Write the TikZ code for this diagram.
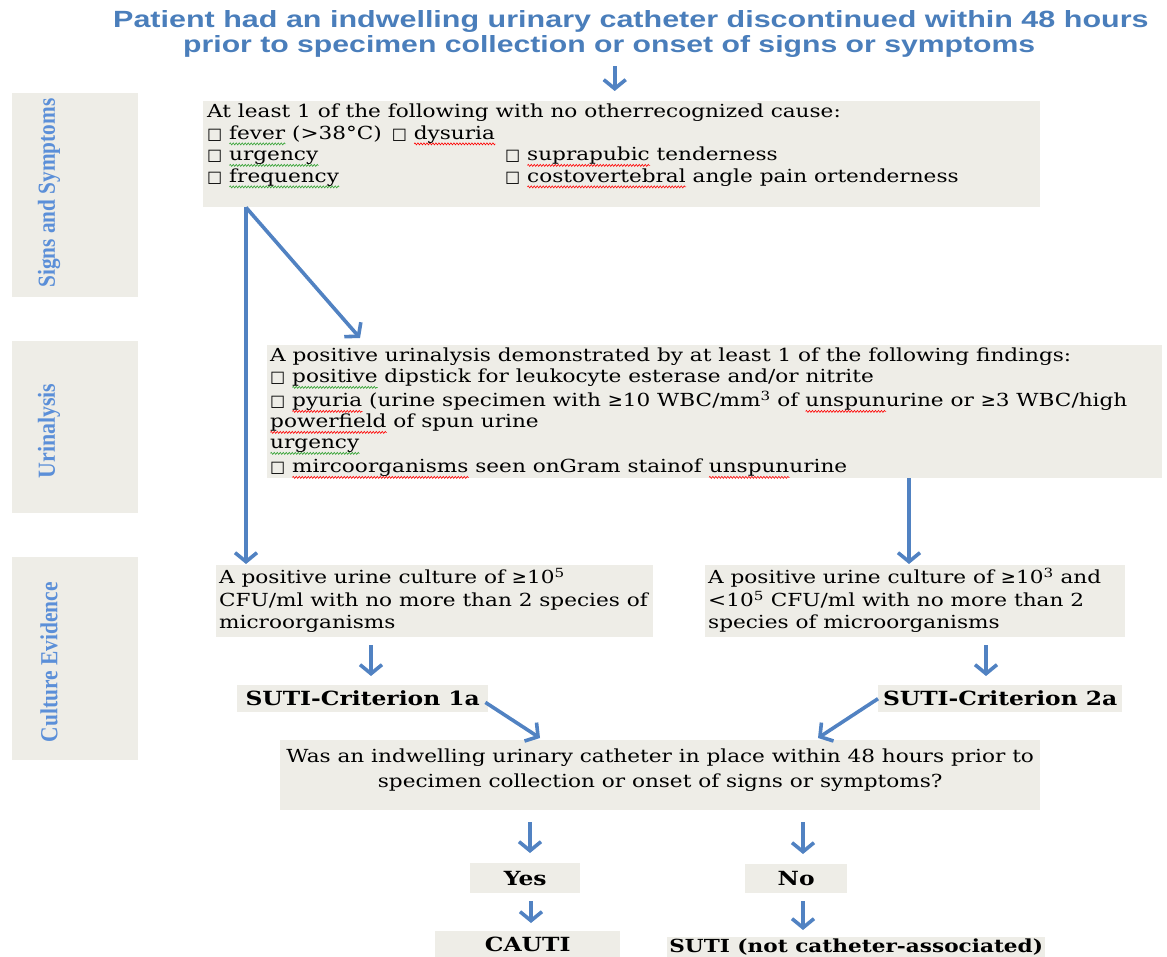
\documentclass[tikz,border=0pt]{standalone}
\usepackage{fontspec}
\usepackage{graphicx}
\usetikzlibrary{arrows.meta,decorations.pathmorphing}
\setmainfont{DejaVu Serif}
\newfontfamily\bodyf[FakeStretch=1.2]{DejaVu Serif}
\newfontfamily\titlef{Liberation Sans}
\newfontfamily\sidef{Liberation Serif}
\newfontfamily\symf{DejaVu Sans}
\definecolor{boxgray}{HTML}{EEEDE7}
\definecolor{titleblue}{HTML}{4A7EBB}
\definecolor{sideblue}{HTML}{5B8FD8}
\definecolor{arrowblue}{HTML}{5182C2}
\definecolor{wavegreen}{HTML}{2EA02E}
\newcommand\sq{{\symf\fontsize{16}{16}\selectfont □}}
\newcommand\gesym{{\symf ≥}}
\newsavebox\wbox
\newcommand\wavy[2]{\sbox\wbox{#2}\rlap{\smash{\tikz[baseline=0pt]\draw[#1, line width=0.6pt, decorate, decoration={zigzag, amplitude=1pt, segment length=3pt}] (0pt,-4.5pt) -- (\the\wd\wbox,-4.5pt);}}\usebox\wbox}
\newcommand\rw[1]{\wavy{red}{#1}}
\newcommand\gw[1]{\wavy{wavegreen}{#1}}
\tikzset{
  gbox/.style={fill=boxgray, inner sep=0pt, anchor=north west, font=\bodyf\fontsize{18}{21.5}\selectfont},
  cbox/.style={fill=boxgray, inner sep=0pt, anchor=north west, font=\bodyf\bfseries\fontsize{19.5}{22}\selectfont},
  arr/.style={draw=arrowblue, line width=3.6pt, -{Straight Barb[length=9pt,width=22pt]}},
  sidebox/.style={fill=boxgray, inner sep=0pt, anchor=north west},
  sidetext/.style={rotate=90, text=sideblue, inner sep=0pt, font=\sidef\bfseries},
  titletext/.style={anchor=base west, inner sep=0pt, text=titleblue, font=\titlef\bfseries}
}
\begin{document}
\begin{tikzpicture}[x=1pt,y=-1pt]
\useasboundingbox (0,0) rectangle (1167,957);
% title
\node[titletext] (t1) at (113,28) {\resizebox{1035pt}{17pt}{Patient had an indwelling urinary catheter discontinued within 48 hours}};
\node[titletext] (t2) at (183,53) {\resizebox{852pt}{17pt}{prior to specimen collection or onset of signs or symptoms}};
% side boxes
\node[sidebox, minimum width=126pt, minimum height=204pt] (sb1) at (12,93) {};
\node[sidebox, minimum width=126pt, minimum height=172pt] (sb2) at (12,341) {};
\node[sidebox, minimum width=126pt, minimum height=203pt] (sb3) at (12,557) {};
\node[sidetext] (l1) at (49,193) {\resizebox{189pt}{17pt}{Signs and Symptoms}};
\node[sidetext] (l2) at (49,431) {\resizebox{95pt}{17pt}{Urinalysis}};
\node[sidetext] (l3) at (49,662) {\resizebox{160pt}{17pt}{Culture Evidence}};
% signs and symptoms
\node[gbox] (ss) at (203,101) {\parbox[c][106pt][t]{837pt}{\parindent=0pt\leftskip=4pt\vspace*{3pt}%
At least 1 of the following with no otherrecognized cause:\\
\sq\ \gw{fever} (>38°C)\hspace{10pt}\sq\ \rw{dysuria}\\
\makebox[298pt][l]{\sq\ \gw{urgency}}\sq\ \rw{suprapubic} tenderness\\
\makebox[298pt][l]{\sq\ \gw{frequency}}\sq\ \rw{costovertebral} angle pain ortenderness}};
% urinalysis
\node[gbox] (ua) at (267,345) {\parbox[c][133pt][t]{895pt}{\parindent=0pt\leftskip=3pt\fontsize{18}{21}\selectfont\vspace*{3pt}%
A positive urinalysis demonstrated by at least 1 of the following findings:\\
\sq\ \gw{positive} dipstick for leukocyte esterase and/or nitrite\\[3pt]
\sq\ \rw{pyuria} (urine specimen with \gesym10 WBC/mm\textsuperscript{3} of \rw{unspun}urine or \gesym3 WBC/high\\
\rw{powerfield} of spun urine\\
\gw{urgency}\\[3pt]
\sq\ \rw{mircoorganisms} seen onGram stainof \rw{unspun}urine}};
% culture
\node[gbox] (cl) at (216,565) {\parbox[c][72pt][t]{437pt}{\parindent=0pt\leftskip=3pt\fontsize{18}{22.5}\selectfont\vspace*{3pt}%
A positive urine culture of \gesym10\textsuperscript{5}\\
CFU/ml with no more than 2 species of\\
microorganisms}};
\node[gbox] (cr) at (705,565) {\parbox[c][72pt][t]{420pt}{\parindent=0pt\leftskip=3pt\fontsize{18}{22.5}\selectfont\vspace*{3pt}%
A positive urine culture of \gesym10\textsuperscript{3} and\\
<10\textsuperscript{5} CFU/ml with no more than 2\\
species of microorganisms}};
% criteria
\node[cbox, minimum width=251pt, minimum height=27pt] (c1) at (237,685) {SUTI-Criterion 1a};
\node[cbox, minimum width=244pt, minimum height=27pt] (c2) at (878,685) {SUTI-Criterion 2a};
% question
\node[gbox] (q) at (280,740) {\parbox[c][70pt][t]{760pt}{\centering\fontsize{18}{24.5}\selectfont\vspace*{9pt}%
Was an indwelling urinary catheter in place within 48 hours prior to\\
specimen collection or onset of signs or symptoms?}};
% outcomes
\node[cbox, minimum width=110pt, minimum height=30pt] (yes) at (470,863) {Yes};
\node[cbox, minimum width=102pt, minimum height=29pt] (no) at (745,864) {No};
\node[cbox, minimum width=185pt, minimum height=26pt] (cauti) at (435,931) {CAUTI};
\node[cbox, minimum width=378pt, minimum height=20pt, font=\bodyf\bfseries\fontsize{18}{20}\selectfont] (suti) at (667,937) {SUTI (not catheter-associated)};
% connectors
\path ([xshift=-7pt]ss.north) coordinate (a1);
\draw[arr, shorten <=8pt, shorten >=10pt] (a1 |- t2.south) -- (a1);
\path ([xshift=43pt]ss.south west) coordinate (a2);
\draw[arr] (a2) -- ([xshift=93pt,yshift=7pt]ua.north west);
\draw[arr, shorten >=1pt] (a2) -- (a2 |- cl.north);
\path ([xshift=204pt]cr.north west) coordinate (a4);
\draw[arr, shorten >=1pt] (a4 |- ua.south) -- (a4);
\path ([xshift=134pt]c1.north west) coordinate (a5);
\draw[arr, shorten <=8pt, shorten >=9pt] (a5 |- cl.south) -- (a5);
\path ([xshift=108pt]c2.north west) coordinate (a6);
\draw[arr, shorten <=8pt, shorten >=9pt] (a6 |- cr.south) -- (a6);
\draw[arr] ([xshift=-3pt,yshift=10pt]c1.south east) -- ([xshift=260pt,yshift=2pt]q.north west);
\draw[arr] (c2.west) -- ([xshift=538pt,yshift=2pt]q.north west);
\path ([xshift=60pt]yes.north west) coordinate (a9);
\draw[arr, shorten <=12pt, shorten >=10pt] (a9 |- q.south) -- (a9);
\path ([xshift=58pt]no.north west) coordinate (a10);
\draw[arr, shorten <=12pt, shorten >=10pt] (a10 |- q.south) -- (a10);
\path ([xshift=96pt]cauti.north west) coordinate (a11);
\draw[arr, shorten <=8pt, shorten >=8pt] (a11 |- yes.south) -- (a11);
\path ([xshift=136pt]suti.north west) coordinate (a12);
\draw[arr, shorten <=8pt, shorten >=7pt] (a12 |- no.south) -- (a12);
\end{tikzpicture}
\end{document}
